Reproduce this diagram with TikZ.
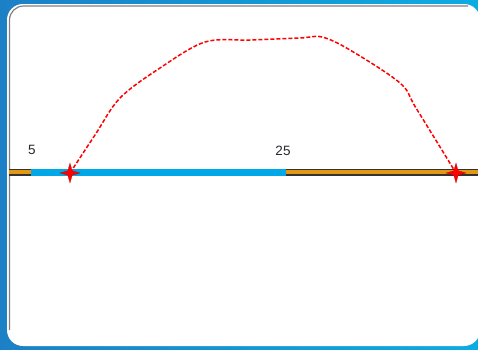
\documentclass[tikz,border=0pt]{standalone}
\usepackage{fontspec}
\setmainfont{Liberation Sans}
\usetikzlibrary{shapes.geometric}
\definecolor{bgblue}{RGB}{28,128,198}
\definecolor{bgcyan}{RGB}{12,172,226}
\definecolor{roadorange}{RGB}{226,152,18}
\definecolor{routeblue}{RGB}{0,168,232}
\definecolor{labelgray}{RGB}{40,40,50}
\tikzset{
  vertex/.style={star,star points=4,star point ratio=3.2,minimum size=20pt,
    inner sep=0pt,fill=red,draw=red!70!black,very thin},
  label/.style={font=\fontsize{13.5}{15}\selectfont,text=labelgray,inner sep=0pt},
  detour/.style={red,line width=1.5pt,dash pattern=on 4pt off 2pt}
}
\begin{document}
\begin{tikzpicture}[x=1pt,y=-1pt]
  \useasboundingbox (0,0) rectangle (478,349);
  \shade[left color=bgblue,right color=bgcyan] (0,0) rectangle (478,349);
  \fill[white,rounded corners=16pt] (7,4) rectangle (480,346);
  \draw[gray,line width=1.2pt,rounded corners=14pt] (9.5,330) -- (9.5,6) -- (468,6);

  % road and route
  \draw[black!80,line width=7pt] (9,172) -- (478,172);
  \draw[roadorange,line width=4.6pt] (9,172) -- (478,172);
  \draw[routeblue,line width=7pt] (31,172) -- (286,172);

  \node[label] (l1) at (32,150) {5};
  \node[label] (l2) at (283,151) {25};

  \node[vertex] (v1) at (70,173) {};
  \node[vertex] (v2) at (456,173) {};

  % detour
  \draw[detour] plot[smooth,tension=0.55] coordinates
    {(v1.center) (95,135) (120,98) (160,68) (205,42) (250,40) (300,38) (322,37)
     (350,50) (400,83) (416,108) (456,173)};
\end{tikzpicture}
\end{document}
